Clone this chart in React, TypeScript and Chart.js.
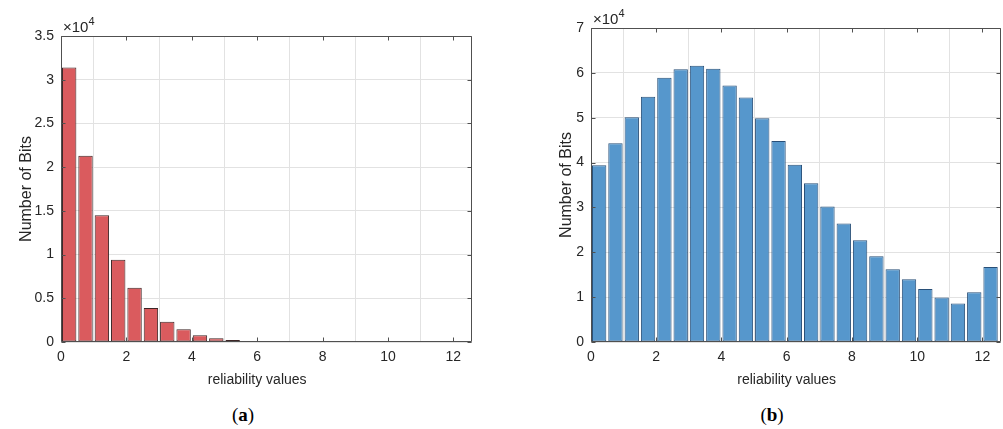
import React, { useEffect, useRef } from "react";
import { Chart, registerables } from "chart.js";

Chart.register(...registerables);

// ---- data ----
const binCenters = [
  0.25, 0.75, 1.25, 1.75, 2.25, 2.75, 3.25, 3.75, 4.25, 4.75, 5.25, 5.75, 6.25,
  6.75, 7.25, 7.75, 8.25, 8.75, 9.25, 9.75, 10.25, 10.75, 11.25, 11.75, 12.25,
];
const countsA = [
  31400, 21300, 14500, 9400, 6200, 3900, 2330, 1450, 760, 420, 230, 120, 60,
  30, 15, 8, 4, 2, 1, 1, 1, 1, 1, 1, 1,
];
const countsB = [
  39400, 44300, 50100, 54700, 58900, 60800, 61600, 60900, 57200, 54500, 49900,
  44800, 39500, 35400, 30200, 26400, 22700, 19100, 16200, 14000, 11800, 9900,
  8600, 11100, 16700,
];
const xTickValues = [0, 2, 4, 6, 8, 10, 12];
const xMax = 12.57;
const yMaxA = 35000;
const yStepA = 5000;
const yMaxB = 70000;
const yStepB = 10000;
const yScaleFactor = 10000;
const exponentText = "4";
const xLabel = "reliability values";
const yLabel = "Number of Bits";
const captionLetters = ["a", "b"];

const FONT = '"Liberation Sans", Arial, Helvetica, sans-serif';
const TEXT = "#262626";

type Panel = {
  left: number;
  width: number;
  height: number;
  area: { left: number; top: number; right: number; bottom: number };
  counts: number[];
  yMax: number;
  yStep: number;
  fill: string;
  edge: string;
  yLabelX: number;
};

function makeDecor(p: Panel) {
  return {
    id: "decor",
    afterDraw(chart: any) {
      const { ctx, chartArea: a, scales } = chart;
      const xs = scales.x;
      const ys = scales.y;
      ctx.save();
      // box
      ctx.strokeStyle = "#505050";
      ctx.lineWidth = 1;
      const L = Math.round(a.left) + 0.5;
      const R = Math.round(a.right) - 0.5;
      const T = Math.round(a.top) + 0.5;
      const B = Math.round(a.bottom) - 0.5;
      ctx.beginPath();
      ctx.rect(L, T, R - L, B - T);
      ctx.stroke();
      // inward ticks
      const tl = 4;
      ctx.beginPath();
      xTickValues.forEach((v) => {
        const px = Math.round(xs.getPixelForValue(v)) + 0.5;
        ctx.moveTo(px, B);
        ctx.lineTo(px, B - tl);
        ctx.moveTo(px, T);
        ctx.lineTo(px, T + tl);
      });
      for (let v = 0; v <= p.yMax; v += p.yStep) {
        const py = Math.round(ys.getPixelForValue(v)) + 0.5;
        ctx.moveTo(L, py);
        ctx.lineTo(L + tl, py);
        ctx.moveTo(R, py);
        ctx.lineTo(R - tl, py);
      }
      ctx.stroke();
      // x label
      ctx.fillStyle = TEXT;
      ctx.font = `14px ${FONT}`;
      ctx.textAlign = "center";
      ctx.textBaseline = "middle";
      ctx.fillText(xLabel, xs.getPixelForValue(6), a.bottom + 38);
      // y label
      ctx.save();
      ctx.font = `16px ${FONT}`;
      ctx.translate(p.yLabelX, (a.top + a.bottom) / 2);
      ctx.rotate(-Math.PI / 2);
      ctx.fillText(yLabel, 0, 0);
      ctx.restore();
      // exponent
      ctx.textAlign = "left";
      ctx.textBaseline = "alphabetic";
      ctx.font = `15px ${FONT}`;
      const base = "\u00d710";
      ctx.fillText(base, a.left + 2, a.top - 4);
      const w = ctx.measureText(base).width;
      ctx.font = `11px ${FONT}`;
      ctx.fillText(exponentText, a.left + 2 + w, a.top - 11);
      ctx.restore();
    },
  };
}

function HistPanel({ p }: { p: Panel }) {
  const ref = useRef<HTMLCanvasElement | null>(null);
  useEffect(() => {
    if (!ref.current) return;
    const chart = new Chart(ref.current, {
      type: "bar",
      data: {
        datasets: [
          {
            data: binCenters.map((x, i) => ({ x, y: p.counts[i] })),
            backgroundColor: p.fill,
            borderColor: p.edge,
            borderWidth: 1,
            borderSkipped: false,
            barPercentage: 0.88,
            categoryPercentage: 1,
          } as any,
        ],
      },
      options: {
        responsive: false,
        animation: false,
        layout: {
          padding: {
            left: 0,
            top: p.area.top,
            right: p.width - p.area.right,
            bottom: 0,
          },
        },
        plugins: {
          legend: { display: false },
          tooltip: { enabled: false },
        },
        scales: {
          x: {
            type: "linear",
            min: 0,
            max: xMax,
            offset: false,
            grid: { color: "#e2e2e2", drawTicks: false },
            border: { display: false },
            ticks: {
              stepSize: 2,
              includeBounds: false,
              autoSkip: false,
              maxRotation: 0,
              padding: 7,
              color: TEXT,
              font: { family: FONT, size: 14 },
              callback: (v: any) => String(v),
            },
            afterFit: (s: any) => {
              s.height = p.height - p.area.bottom;
            },
          } as any,
          y: {
            type: "linear",
            min: 0,
            max: p.yMax,
            grid: { color: "#e2e2e2", drawTicks: false },
            border: { display: false },
            ticks: {
              stepSize: p.yStep,
              padding: 7,
              color: TEXT,
              font: { family: FONT, size: 14 },
              callback: (v: any) => String(Number(v) / yScaleFactor),
            },
            afterFit: (s: any) => {
              s.width = p.area.left;
            },
          } as any,
        },
      },
      plugins: [makeDecor(p)],
    });
    return () => chart.destroy();
  }, [p]);
  return (
    <canvas
      ref={ref}
      width={p.width}
      height={p.height}
      style={{
        position: "absolute",
        left: p.left,
        top: 0,
        width: p.width,
        height: p.height,
      }}
    />
  );
}

const panelA: Panel = {
  left: 0,
  width: 505,
  height: 400,
  area: { left: 61, top: 36, right: 472, bottom: 342 },
  counts: countsA,
  yMax: yMaxA,
  yStep: yStepA,
  fill: "#da5b5e",
  edge: "#3d2626",
  yLabelX: 27,
};

const panelB: Panel = {
  left: 505,
  width: 498,
  height: 400,
  area: { left: 86, top: 28, right: 496, bottom: 342 },
  counts: countsB,
  yMax: yMaxB,
  yStep: yStepB,
  fill: "#5697cc",
  edge: "#284f78",
  yLabelX: 62,
};

function Caption({ letter, center }: { letter: string; center: number }) {
  return (
    <div
      style={{
        position: "absolute",
        left: center - 40,
        width: 80,
        top: 404,
        textAlign: "center",
        fontFamily: '"Liberation Serif", "Times New Roman", serif',
        fontSize: 19,
        lineHeight: "22px",
        color: "#000",
      }}
    >
      (<b>{letter}</b>)
    </div>
  );
}

export default function App() {
  return (
    <div
      style={{
        position: "absolute",
        left: 0,
        top: 0,
        width: 1003,
        height: 429,
        background: "#fff",
        overflow: "hidden",
      }}
    >
      <HistPanel p={panelA} />
      <HistPanel p={panelB} />
      <Caption letter={captionLetters[0]} center={243} />
      <Caption letter={captionLetters[1]} center={772} />
    </div>
  );
}
